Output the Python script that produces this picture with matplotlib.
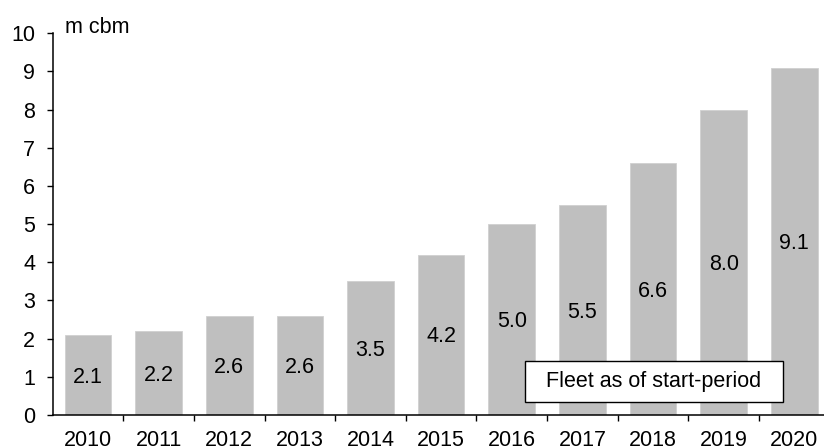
import matplotlib
matplotlib.use("Agg")
import matplotlib.pyplot as plt
from matplotlib.patches import Rectangle
import numpy as np

# Fleet capacity by year (million cubic metres)
years = ["2010", "2011", "2012", "2013", "2014", "2015",
         "2016", "2017", "2018", "2019", "2020"]
capacity = [2.1, 2.2, 2.6, 2.6, 3.5, 4.2, 5.0, 5.5, 6.6, 8.0, 9.1]
unit_label = "m cbm"
note_text = "Fleet as of start-period"
y_ticks = list(range(0, 11))

plt.rcParams["font.family"] = ["Liberation Sans", "DejaVu Sans"]
FS = 15.5
BAR_COLOR = "#BFBFBF"

fig = plt.figure(figsize=(8.24, 4.48), dpi=100)
W, H = 824, 448
left_px, right_px = 52.7, 52.7 + 11 * 70.63
bottom_px, top_px = 415, 33.3
ax = fig.add_axes([left_px / W, 1 - bottom_px / H,
                   (right_px - left_px) / W, (bottom_px - top_px) / H])

x = np.arange(len(years))
ax.bar(x, capacity, width=0.66, color=BAR_COLOR, edgecolor="#D0D0D0",
       linewidth=0.6, zorder=2)

for xi, v in zip(x, capacity):
    ax.annotate(f"{v:.1f}", xy=(xi, v / 2), xytext=(0, -1.5),
                textcoords="offset points", ha="center", va="center",
                fontsize=FS, color="black", zorder=3)

ax.set_xlim(-0.5, len(years) - 0.5)
ax.set_ylim(0, 10)

# category labels under bars, tick marks between categories
ax.set_xticks(x)
ax.set_xticklabels(years, fontsize=FS)
ax.tick_params(axis="x", which="major", length=0, pad=10.5)
ax.set_xticks(np.arange(0.5, len(years) - 0.5, 1), minor=True)
ax.tick_params(axis="x", which="minor", length=4.5, width=1.0,
               direction="out", color="black")

ax.set_yticks(y_ticks)
ax.set_yticklabels([str(t) for t in y_ticks], fontsize=FS)
ax.tick_params(axis="y", length=4.5, width=1.0, direction="out", pad=8)

for side in ("top", "right"):
    ax.spines[side].set_visible(False)
for side in ("left", "bottom"):
    ax.spines[side].set_linewidth(1.1)
    ax.spines[side].set_color("black")

ax.annotate(unit_label, xy=(0, 10), xycoords=("axes fraction", "data"),
            xytext=(9, 0), textcoords="offset points",
            ha="left", va="baseline", fontsize=FS)

# series note in a framed box at lower right
box_x0, box_x1, box_y0, box_y1 = 0.608, 0.940, 0.034, 0.1415
ax.add_patch(Rectangle((box_x0, box_y0), box_x1 - box_x0, box_y1 - box_y0,
                       transform=ax.transAxes, facecolor="white",
                       edgecolor="black", linewidth=1.0, zorder=4))
ax.text((box_x0 + box_x1) / 2, (box_y0 + box_y1) / 2, note_text,
        transform=ax.transAxes, ha="center", va="center",
        fontsize=FS, zorder=5)

fig.savefig("out.png", dpi=100)
